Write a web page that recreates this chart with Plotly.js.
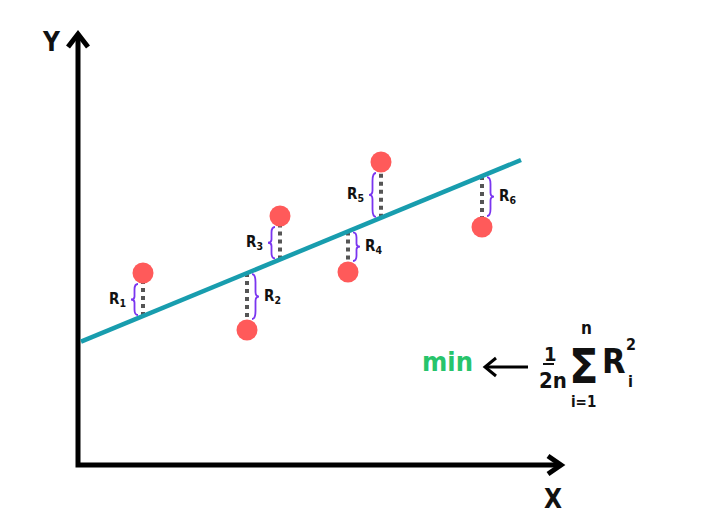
<!DOCTYPE html>
<html>
<head>
<meta charset="utf-8">
<script src="https://cdn.plot.ly/plotly-3.0.1.min.js"></script>
<style>html,body{margin:0;padding:0;background:#fff;}#chart{width:723px;height:532px;}</style>
</head>
<body>
<div id="chart"></div>
<script>
// Data (x, y measured from the axes origin)
const pointX = [65, 169, 202, 270, 303, 404];
const pointY = [192, 135, 249, 193, 303, 238];
const residualLabels = ['R<sub>1</sub>', 'R<sub>2</sub>', 'R<sub>3</sub>', 'R<sub>4</sub>', 'R<sub>5</sub>', 'R<sub>6</sub>'];
const lineX = [3, 443];
const lineY = [123.4, 305.0];
const axisX = [0, 0, 483];
const axisY = [430, 0, 0];

const FONT = '"Liberation Sans Narrow", "DejaVu Sans Condensed", "Roboto Condensed", "Liberation Sans", Arial, sans-serif';
const slope = (lineY[1] - lineY[0]) / (lineX[1] - lineX[0]);
const fitted = pointX.map(x => lineY[0] + slope * (x - lineX[0]));
const R = 10;

// residual dotted segments
const rx = [], ry = [];
pointX.forEach((x, i) => {
  const s = pointY[i] > fitted[i] ? 1 : -1;
  rx.push(x, x, null);
  ry.push(fitted[i], pointY[i] - s * R, null);
});

// braces
const shapes = [];
const annotations = [];
pointX.forEach((x, i) => {
  const above = pointY[i] > fitted[i];
  const side = above ? -1 : 1;
  const hi = above ? pointY[i] - R : fitted[i];
  const lo = above ? fitted[i] : pointY[i] + R;
  const t = hi - 1, b = lo + 1;
  const h = t - b, m = (t + b) / 2;
  const x0 = x + side * 5, xs = x + side * 8.5, xt = x + side * 12;
  const p = `M ${x0},${t} Q ${xs},${t} ${xs},${t - 0.18 * h} L ${xs},${m + 0.1 * h} Q ${xs},${m} ${xt},${m} ` +
            `Q ${xs},${m} ${xs},${m - 0.1 * h} L ${xs},${b + 0.18 * h} Q ${xs},${b} ${x0},${b}`;
  shapes.push({type: 'path', xref: 'x', yref: 'y', path: p, line: {color: '#7a35f0', width: 1.8}});
  annotations.push({
    x: x + side * 15, y: m, xref: 'x', yref: 'y', text: residualLabels[i], showarrow: false,
    xanchor: above ? 'right' : 'left', yanchor: 'middle',
    font: {family: FONT, size: 15, color: '#111', weight: 'bold'}
  });
});

const txt = (x, y, text, size, color, extra) => Object.assign({
  x, y, xref: 'x', yref: 'y', text, showarrow: false, xanchor: 'center', yanchor: 'middle',
  font: {family: FONT, size, color: color || '#111', weight: 'bold'}
}, extra || {});

annotations.push(txt(-27, 423, 'Y', 26));
annotations.push(txt(475, -34, 'X', 26));
annotations.push(txt(369, 104, 'min', 27, '#27c46b'));
annotations.push(txt(472, 111, '1', 20));
annotations.push(txt(475, 85, '2n', 22));
annotations.push(txt(506, 99, '\u03A3', 48));
annotations.push(txt(508, 137, 'n', 17));
annotations.push(txt(505, 63, 'i=1', 15));
annotations.push(txt(536, 104, 'R', 34));
annotations.push(txt(553, 121, '2', 16));
annotations.push(txt(552, 84, 'i', 16));

shapes.push({type: 'line', xref: 'x', yref: 'y', x0: 465, x1: 476, y0: 101, y1: 101, line: {color: '#111', width: 2}});

const traces = [
  {x: axisX, y: axisY, mode: 'lines', line: {color: '#000', width: 5}, hoverinfo: 'skip'},
  {x: [-10, 0, 10], y: [418, 431, 418], mode: 'lines', line: {color: '#000', width: 5}, hoverinfo: 'skip'},
  {x: [470, 483, 470], y: [9, 0, -9], mode: 'lines', line: {color: '#000', width: 5}, hoverinfo: 'skip'},
  {x: [450, 407, null, 418, 407, 418], y: [98, 98, null, 107, 98, 89], mode: 'lines', line: {color: '#000', width: 3}, hoverinfo: 'skip'},
  {x: rx, y: ry, mode: 'lines', line: {color: '#555', width: 4, dash: 'dot'}, hoverinfo: 'skip'},
  {x: lineX, y: lineY, mode: 'lines', line: {color: '#189dae', width: 4.5}},
  {x: pointX, y: pointY, mode: 'markers', marker: {color: '#ff5a5a', size: 21}}
];

const layout = {
  width: 723, height: 532,
  margin: {l: 0, r: 0, t: 0, b: 0},
  paper_bgcolor: '#fff', plot_bgcolor: '#fff',
  showlegend: false,
  xaxis: {range: [-78, 645], visible: false, fixedrange: true},
  yaxis: {range: [-67, 465], visible: false, fixedrange: true},
  shapes, annotations
};

Plotly.newPlot('chart', traces, layout, {displayModeBar: false, staticPlot: true});
</script>
</body>
</html>
